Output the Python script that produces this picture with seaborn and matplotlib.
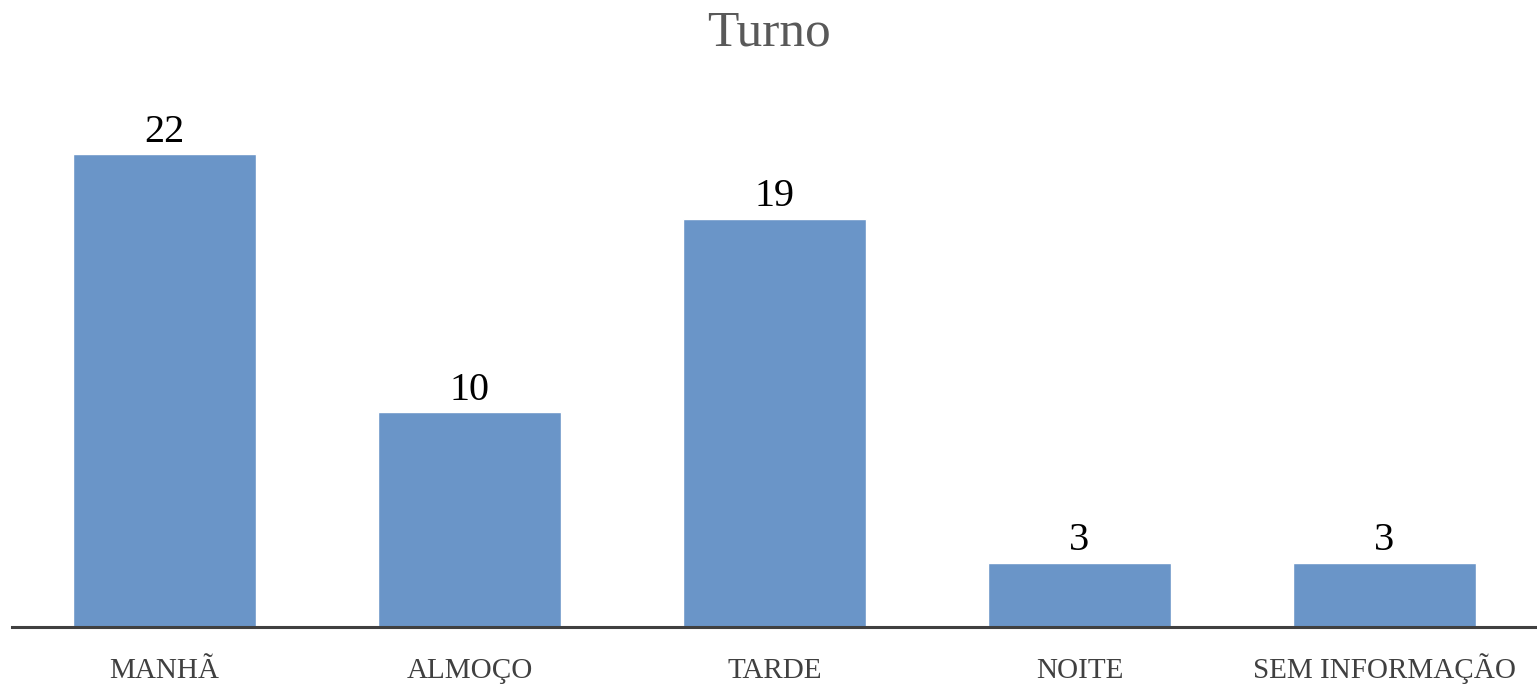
import matplotlib
matplotlib.use("Agg")
import matplotlib.pyplot as plt
import seaborn as sns
import pandas as pd

turnos = ["MANHÃ", "ALMOÇO", "TARDE", "NOITE", "SEM INFORMAÇÃO"]
contagem = [22, 10, 19, 3, 3]

df = pd.DataFrame({"turno": turnos, "n": contagem})

sns.set_style("white")
plt.rcParams["font.family"] = ["Liberation Serif", "DejaVu Serif"]

fig = plt.figure(figsize=(15.37, 6.87), dpi=100)
ax = fig.add_axes([12 / 1537, 60 / 687, 1525 / 1537, 537.5 / 687])

sns.barplot(data=df, x="turno", y="n", color="#6a95c8", saturation=1,
            width=0.6, ax=ax)

for i, v in enumerate(contagem):
    ax.text(i, v + 0.15, str(v), ha="center", va="bottom", fontsize=29,
            color="black")

ax.set_xlim(-0.5, 4.5)
ax.set_ylim(0, 25)
ax.set_xlabel("")
ax.set_ylabel("")
ax.set_yticks([])
for s in ["top", "right", "left"]:
    ax.spines[s].set_visible(False)
ax.spines["bottom"].set_color("#404040")
ax.spines["bottom"].set_linewidth(2.2)
ax.tick_params(axis="x", length=0, pad=37, labelsize=21, labelcolor="#404040")
for lab in ax.get_xticklabels():
    lab.set_verticalalignment("baseline")

fig.text(0.5, 1 - 46 / 687, "Turno", ha="center", va="baseline", fontsize=37,
         color="#595959")

fig.savefig("out.png", dpi=100)
